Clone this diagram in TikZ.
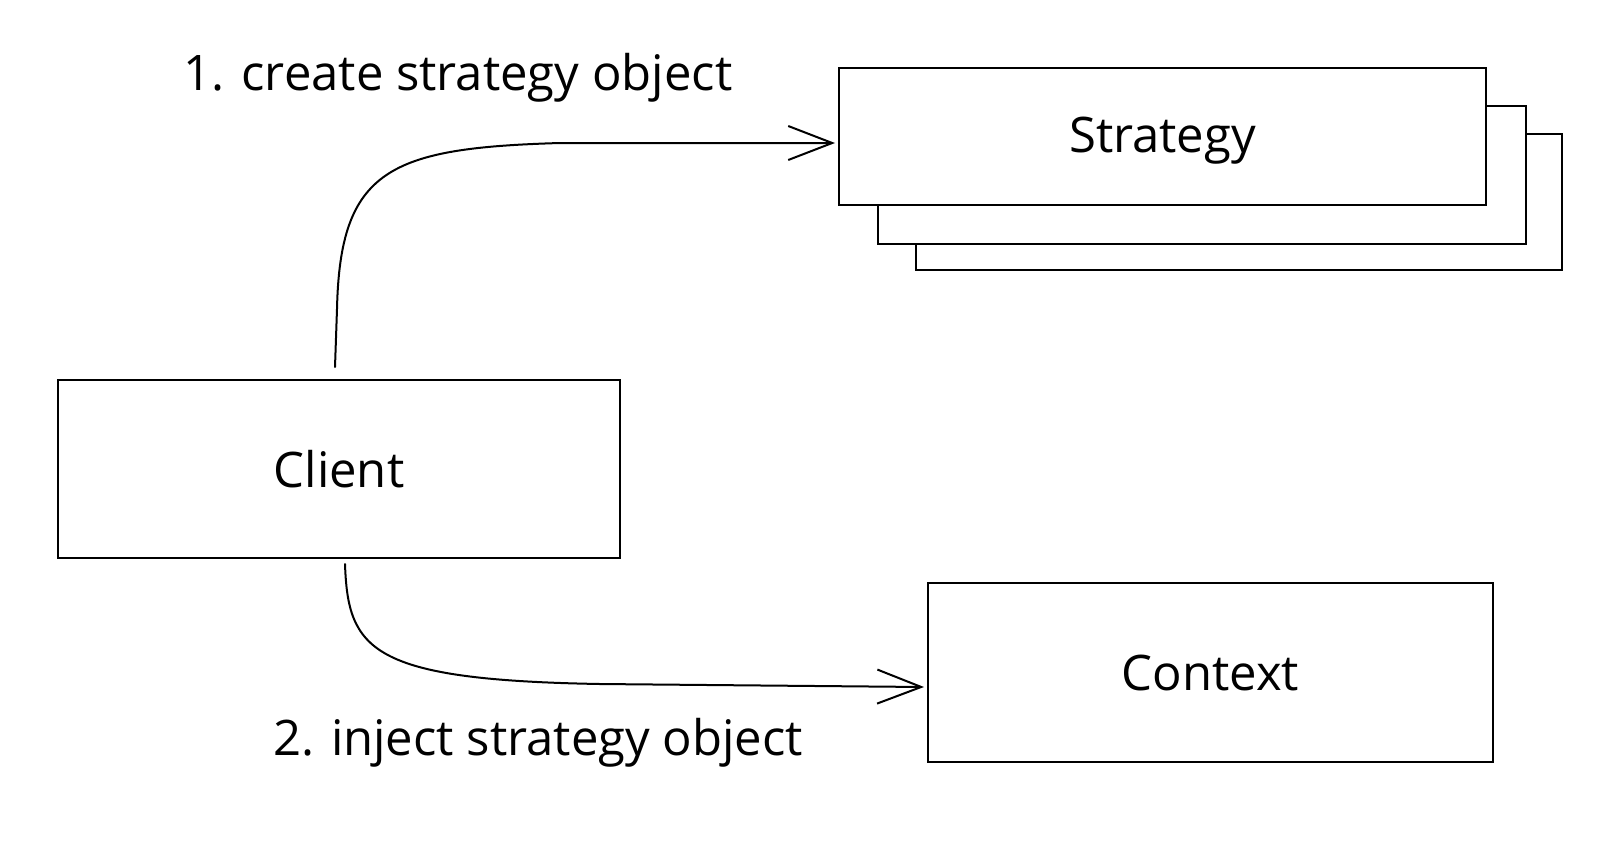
\documentclass[tikz,border=0pt]{standalone}
\usepackage{fontspec}
\setmainfont{Open Sans}
\usetikzlibrary{arrows.meta,calc}
\begin{document}
\begin{tikzpicture}[x=0.5pt,y=-0.5pt,
  box/.style={draw=black,line width=1pt,fill=white,inner sep=0pt,font=\fontsize{24.5}{30}\selectfont},
  conn/.style={draw=black,line width=1pt,line cap=round,-{Straight Barb[length=22pt,width=17pt,line width=1pt]}},
  lbl/.style={font=\fontsize{24.5}{30}\selectfont,inner sep=0pt,anchor=base}]
\path[use as bounding box,fill=white] (0,0) rectangle (1598,846);
\node[box,minimum width=323pt,minimum height=68pt] (s3) at (1239,202) {};
\node[box,minimum width=324pt,minimum height=69pt] (s2) at (1202,175) {};
\node[box,minimum width=323.5pt,minimum height=68.5pt,text depth=2pt] (strategy) at (1162.5,136.5) {Strategy};
\node[box,minimum width=281pt,minimum height=89pt] (client) at (339,469) {Client};
\node[box,minimum width=282.5pt,minimum height=89.5pt] (context) at (1210.5,672.5) {Context};
\node[lbl] (l1) at (458,90) {1. create strategy object};
\node[lbl] (l2) at (538,755) {2. inject strategy object};
\draw[conn] ($(client.north)+(-4,-12)$) -- ++(2,-58) .. controls ++(3,-140) and (390,148) .. (560,143) -- ($(strategy.west)+(-3,6.5)$);
\draw[conn] ($(client.south)+(6,5)$) .. controls (348,650) and (370,680) .. (600,684) -- ($(context.west)+(-3,14.5)$);
\end{tikzpicture}
\end{document}
